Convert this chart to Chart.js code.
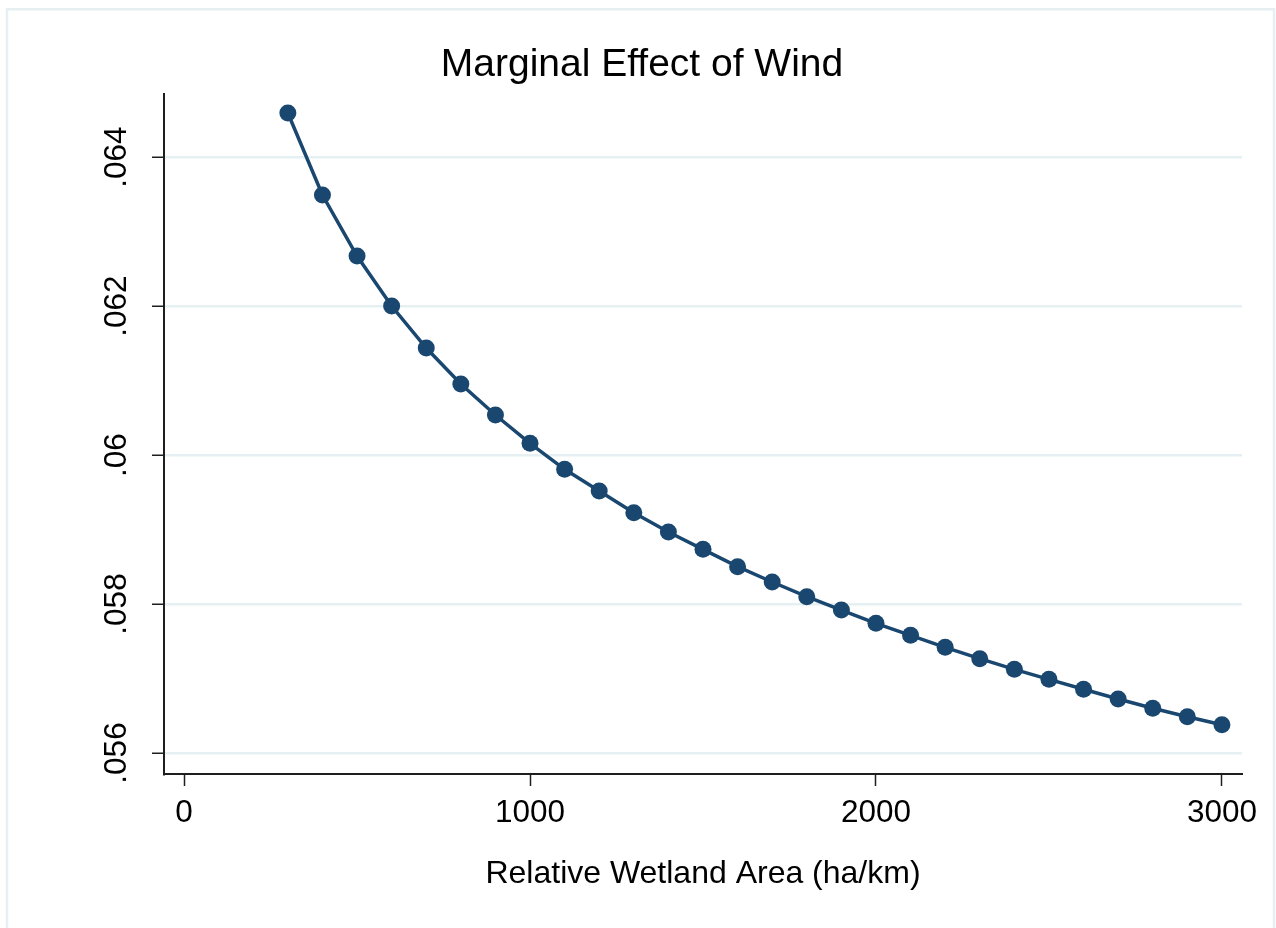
<!DOCTYPE html>
<html>
<head>
<meta charset="utf-8">
<script src="https://cdn.jsdelivr.net/npm/chart.js@4/dist/chart.umd.min.js"></script>
<style>
  html, body { margin: 0; padding: 0; background: #fff; }
  #wrap { width: 1276px; height: 928px; }
</style>
</head>
<body>
<div id="wrap"><canvas id="windChart" width="1276" height="928"></canvas></div>
<script>
// wetland area (ha/km) and marginal effect of wind
var areas = [300, 400, 500, 600, 700, 800, 900, 1000, 1100, 1200, 1300, 1400, 1500, 1600,
  1700, 1800, 1900, 2000, 2100, 2200, 2300, 2400, 2500, 2600, 2700, 2800, 2900, 3000];
var effects = [0.064591, 0.063490, 0.062671, 0.062000, 0.061436, 0.060953, 0.060537,
  0.060157, 0.059808, 0.059517, 0.059226, 0.058966, 0.058734, 0.058501, 0.058295,
  0.058098, 0.057919, 0.057741, 0.057580, 0.057419, 0.057266, 0.057123, 0.056989,
  0.056855, 0.056725, 0.056600, 0.056487, 0.056380];

var xTicks = [0, 1000, 2000, 3000];
var yTicks = [0.056, 0.058, 0.060, 0.062, 0.064];
var yTickLabels = [".056", ".058", ".06", ".062", ".064"];

var navy = "#1a476f";
var gridColor = "#e6eff1";
var font = "'Liberation Sans', Arial, sans-serif";

// stata style outer frame + title centred on the whole graph
var framePlugin = {
  id: "frame",
  afterLayout: function (chart) {
    chart.titleBlock.left = 0;
    chart.titleBlock.right = chart.width + 8;
  },
  beforeDraw: function (chart) {
    var c = chart.ctx;
    c.save();
    c.fillStyle = "#fff";
    c.fillRect(0, 0, chart.width, chart.height);
    c.strokeStyle = gridColor;
    c.lineWidth = 2.5;
    c.strokeRect(7, 9.3, 1267, 940);
    c.restore();
  }
};

var ctx = document.getElementById("windChart");
var windChart = new Chart(ctx, {
  type: "line",
  data: {
    datasets: [{
      data: areas.map(function (a, i) { return { x: a, y: effects[i] }; }),
      borderColor: navy,
      backgroundColor: navy,
      borderWidth: 3.5,
      pointRadius: 8.5,
      pointBorderWidth: 0,
      pointBackgroundColor: navy,
      tension: 0,
      fill: false
    }]
  },
  options: {
    responsive: false,
    animation: false,
    devicePixelRatio: 1,
    layout: { padding: { left: 0, right: 34, top: 0, bottom: 0 } },
    plugins: {
      legend: { display: false },
      tooltip: { enabled: false },
      title: {
        display: true,
        text: "Marginal Effect of Wind",
        color: "#000",
        font: { family: font, size: 39, weight: "normal" },
        padding: { top: 42, bottom: 5.2 }
      }
    },
    scales: {
      x: {
        type: "linear",
        min: -58,
        max: 3058,
        afterBuildTicks: function (s) { s.ticks = xTicks.map(function (v) { return { value: v }; }); },
        afterFit: function (s) { s.height = 154; },
        border: { display: true, color: "#1e1e1e", width: 2 },
        grid: { drawOnChartArea: false, drawTicks: true, tickLength: 12, tickColor: "#1e1e1e", tickWidth: 1.5 },
        ticks: {
          color: "#000",
          padding: 8,
          maxRotation: 0,
          autoSkip: false,
          font: { family: font, size: 31.5 },
          callback: function (v) { return String(v); }
        },
        title: {
          display: true,
          text: "Relative Wetland Area (ha/km)",
          color: "#000",
          font: { family: font, size: 32 },
          padding: { top: 0, bottom: 35 }
        }
      },
      y: {
        type: "linear",
        min: 0.055718,
        max: 0.064846,
        afterBuildTicks: function (s) { s.ticks = yTicks.map(function (v) { return { value: v }; }); },
        afterFit: function (s) { s.width = 164; },
        border: { display: true, color: "#1e1e1e", width: 2 },
        grid: { color: gridColor, lineWidth: 2.5, drawTicks: true, tickLength: 12, tickColor: "#1e1e1e", tickWidth: 1.5 },
        ticks: {
          color: "#000",
          padding: 4,
          minRotation: 90,
          maxRotation: 90,
          crossAlign: "center",
          autoSkip: false,
          font: { family: font, size: 31.5 },
          callback: function (v, i) { return yTickLabels[i]; }
        }
      }
    }
  },
  plugins: [framePlugin]
});
</script>
</body>
</html>
